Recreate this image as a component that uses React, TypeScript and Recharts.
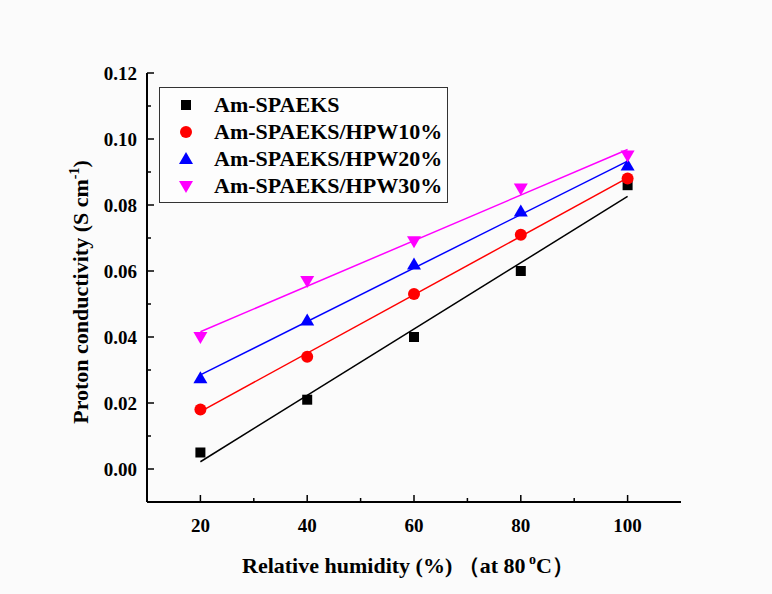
import React from "react";
import { ComposedChart, Scatter, XAxis, YAxis, Legend } from "recharts";

const humidity = [20, 40, 60, 80, 100];
const amSpaeks = [0.005, 0.021, 0.04, 0.06, 0.086];
const hpw10 = [0.018, 0.034, 0.053, 0.071, 0.088];
const hpw20 = [0.0275, 0.045, 0.062, 0.078, 0.092];
const hpw30 = [0.04, 0.057, 0.069, 0.085, 0.095];

// linear fit lines (value at x=20, value at x=100)
const fitX = [20, 100];
const fitAmSpaeks = [0.0022, 0.0826];
const fitHpw10 = [0.0174, 0.0882];
const fitHpw20 = [0.0285, 0.0933];
const fitHpw30 = [0.0416, 0.0968];

const seriesNames = ["Am-SPAEKS", "Am-SPAEKS/HPW10%", "Am-SPAEKS/HPW20%", "Am-SPAEKS/HPW30%"];
const seriesColors = ["#000000", "#ff0000", "#0000ff", "#ff00ff"];
const seriesShapes = ["square", "circle", "triangle", "down"];

const xTicks = [20, 30, 40, 50, 60, 70, 80, 90, 100];
const yTicks = [0, 0.01, 0.02, 0.03, 0.04, 0.05, 0.06, 0.07, 0.08, 0.09, 0.1, 0.11, 0.12];

const FONT = "'Liberation Serif', 'Times New Roman', serif";

const toPts = (xs: number[], ys: number[]) => xs.map((x, i) => ({ x, y: ys[i] }));

const Marker = ({ cx, cy, kind, color }: any) => {
  if (cx == null || cy == null) return null;
  if (kind === "square") return <rect x={cx - 5} y={cy - 5} width={10} height={10} fill={color} />;
  if (kind === "circle") return <circle cx={cx} cy={cy} r={6} fill={color} />;
  if (kind === "triangle")
    return <polygon points={`${cx},${cy - 7} ${cx - 7},${cy + 5} ${cx + 7},${cy + 5}`} fill={color} />;
  return <polygon points={`${cx},${cy + 7} ${cx - 7},${cy - 5} ${cx + 7},${cy - 5}`} fill={color} />;
};

const YTick = ({ x, y, payload }: any) => {
  const v = payload.value;
  const major = Math.round(v * 100) % 2 === 0;
  return (
    <g>
      <line x1={x} x2={x + (major ? 7 : 4)} y1={y} y2={y} stroke="#000" strokeWidth={1.5} />
      {major && (
        <text x={x - 10} y={y} dy={6.5} textAnchor="end" fontFamily={FONT} fontWeight="bold" fontSize={19} fill="#000">
          {v.toFixed(2)}
        </text>
      )}
    </g>
  );
};

const XTick = ({ x, y, payload }: any) => {
  const v = payload.value;
  const major = v % 20 === 0;
  return (
    <g>
      <line x1={x} x2={x} y1={y} y2={y - (major ? 7 : 4)} stroke="#000" strokeWidth={1.5} />
      {major && (
        <text x={x} y={y + 30} textAnchor="middle" fontFamily={FONT} fontWeight="bold" fontSize={19} fill="#000">
          {v}
        </text>
      )}
    </g>
  );
};

const LegendBox = () => (
  <div
    style={{
      border: "1px solid #333",
      background: "#fdfdfd",
      width: 289,
      padding: "3px 0 3px 0",
      fontFamily: FONT,
      fontWeight: "bold",
      fontSize: 22,
      boxSizing: "border-box",
      lineHeight: "27px",
    }}
  >
    {seriesNames.map((n, i) => (
      <div key={n} style={{ display: "flex", alignItems: "center", height: 27, whiteSpace: "nowrap" }}>
        <svg width={54} height={20} style={{ flex: "none" }}>
          <Marker cx={26} cy={10} kind={seriesShapes[i]} color={seriesColors[i]} />
        </svg>
        <span style={{ color: "#000" }}>{n}</span>
      </div>
    ))}
  </div>
);

const pointSets = [amSpaeks, hpw10, hpw20, hpw30];
const fitSets = [fitAmSpaeks, fitHpw10, fitHpw20, fitHpw30];

export default function App() {
  return (
    <div style={{ position: "absolute", left: 0, top: 0, width: 772, height: 594, background: "#fbfbfb" }}>
      <ComposedChart width={772} height={594} margin={{ top: 73, right: 91, bottom: 0, left: 0 }}>
        <XAxis
          xAxisId="b"
          type="number"
          dataKey="x"
          domain={[10, 110]}
          ticks={xTicks}
          interval={0}
          height={92}
          tickSize={0}
          tickMargin={0}
          tick={<XTick />}
          axisLine={{ stroke: "#000", strokeWidth: 2 }}
          allowDataOverflow
        />
        <XAxis
          xAxisId="t"
          orientation="top"
          type="number"
          dataKey="x"
          domain={[10, 110]}
          height={0}
          tick={false}
          tickLine={false}
          axisLine={{ stroke: "#000", strokeWidth: 2 }}
        />
        <YAxis
          yAxisId="l"
          type="number"
          dataKey="y"
          domain={[-0.01, 0.12]}
          ticks={yTicks}
          interval={0}
          width={147}
          tickSize={0}
          tickMargin={0}
          tick={<YTick />}
          axisLine={{ stroke: "#000", strokeWidth: 2 }}
          allowDataOverflow
        />
        <YAxis
          yAxisId="r"
          orientation="right"
          type="number"
          dataKey="y"
          domain={[-0.01, 0.12]}
          width={0}
          tick={false}
          tickLine={false}
          axisLine={{ stroke: "#000", strokeWidth: 2 }}
        />
        {fitSets.map((f, i) => (
          <Scatter
            key={"fit" + i}
            xAxisId="b"
            yAxisId="l"
            data={toPts(fitX, f)}
            line={{ stroke: seriesColors[i], strokeWidth: 1.5 }}
            lineType="joint"
            shape={() => <g />}
            isAnimationActive={false}
            legendType="none"
          />
        ))}
        {pointSets.map((p, i) => (
          <Scatter
            key={"pts" + i}
            name={seriesNames[i]}
            xAxisId="b"
            yAxisId="l"
            data={toPts(humidity, p)}
            shape={(props: any) => <Marker cx={props.cx} cy={props.cy} kind={seriesShapes[i]} color={seriesColors[i]} />}
            isAnimationActive={false}
          />
        ))}
        <Legend
          content={<LegendBox />}
          wrapperStyle={{ left: 159, top: 87, width: 290 }}
          layout="vertical"
          verticalAlign="middle"
          align="center"
        />
        <text
          x={88}
          y={292}
          transform="rotate(-90 88 292)"
          textAnchor="middle"
          fontFamily={FONT}
          fontWeight="bold"
          fontSize={22}
          fill="#000"
        >
          Proton conductivity (S cm
          <tspan dy={-9} fontSize={14}>-1</tspan>
          <tspan dy={9}>)</tspan>
        </text>
        <text x={408} y={573} textAnchor="middle" fontFamily={FONT} fontWeight="bold" fontSize={22} fill="#000">
          Relative humidity (%) （at 80
          <tspan dy={-9} fontSize={14}> o</tspan>
          <tspan dy={9}>C）</tspan>
        </text>
      </ComposedChart>
    </div>
  );
}
